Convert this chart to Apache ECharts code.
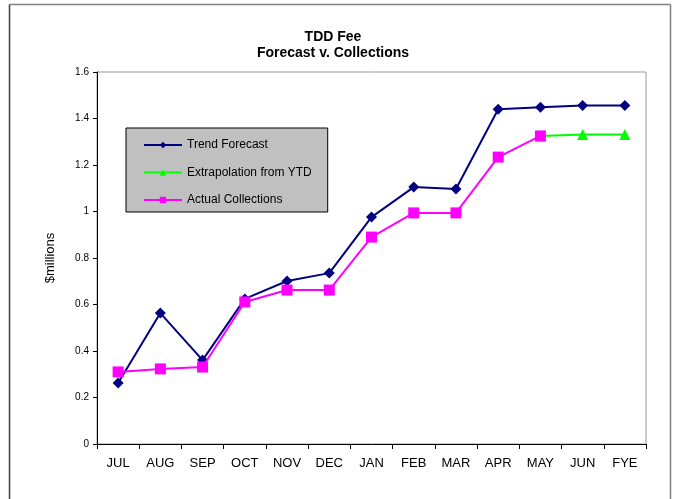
<!DOCTYPE html>
<html><head><meta charset="utf-8">
<script src="https://cdn.jsdelivr.net/npm/echarts@6/dist/echarts.min.js"></script>
<style>html,body{margin:0;padding:0;background:#fff}#c{width:674px;height:499px}</style>
</head><body><div id="c"></div>
<script>
const categories = ['JUL','AUG','SEP','OCT','NOV','DEC','JAN','FEB','MAR','APR','MAY','JUN','FYE'];
const trendForecast = [0.262,0.563,0.361,0.624,0.701,0.735,0.976,1.105,1.097,1.440,1.448,1.456,1.456];
const extrapolation = [null,null,null,null,null,null,null,null,null,null,1.325,1.331,1.331];
const actualCollections = [0.310,0.323,0.331,0.611,0.662,0.662,0.890,0.994,0.994,1.234,1.325,null,null];
const yTicks = [0,0.2,0.4,0.6,0.8,1,1.2,1.4,1.6];

const chart = echarts.init(document.getElementById('c'));
const font = 'Liberation Sans, Arial, sans-serif';
chart.setOption({
  animation: false,
  textStyle: {fontFamily: font},
  title: {
    text: 'TDD Fee\nForecast v. Collections',
    left: 328, textAlign: 'center', top: 24,
    textStyle: {fontFamily: font, fontSize: 14, fontWeight: 'bold', color: '#000', lineHeight: 16}
  },
  graphic: [
    {type: 'line', silent: true, shape: {x1: 9.5, y1: 4.5, x2: 670.5, y2: 4.5}, style: {stroke: '#808080', lineWidth: 1.5}},
    {type: 'line', silent: true, shape: {x1: 9.5, y1: 4.5, x2: 9.5, y2: 499}, style: {stroke: '#404040', lineWidth: 1.5}},
    {type: 'line', silent: true, shape: {x1: 670.5, y1: 4.5, x2: 670.5, y2: 499}, style: {stroke: '#808080', lineWidth: 1.5}}
  ],
  legend: {
    orient: 'vertical', left: 126, top: 128,
    backgroundColor: '#c0c0c0', borderColor: '#000', borderWidth: 1,
    padding: [11, 16, 6, 17], itemGap: 15.5, itemWidth: 38, itemHeight: 8,
    textStyle: {fontFamily: font, fontSize: 12, color: '#000'},
    data: ['Trend Forecast','Extrapolation from YTD','Actual Collections']
  },
  grid: {left: 97, right: 28, top: 72, bottom: 55, show: true, borderColor: '#999', borderWidth: 1},
  xAxis: {
    type: 'category', data: categories, boundaryGap: true,
    axisLine: {lineStyle: {color: '#000', width: 1}},
    axisTick: {show: true, inside: false, length: 5, lineStyle: {color: '#000'}},
    axisLabel: {fontFamily: font, fontSize: 13, color: '#000', margin: 13},
    splitLine: {show: false}
  },
  yAxis: {
    type: 'value', min: 0, max: 1.6, interval: 0.2,
    name: '$millions', nameLocation: 'middle', nameGap: 40, nameRotate: 90,
    nameTextStyle: {fontFamily: font, fontSize: 13, color: '#000'},
    axisLine: {show: true, lineStyle: {color: '#000', width: 1}},
    axisTick: {show: true, length: 4, lineStyle: {color: '#000'}},
    axisLabel: {fontFamily: font, fontSize: 10, color: '#000', margin: 8,
      formatter: v => { const t = yTicks.find(x => Math.abs(x - v) < 1e-9); return t === undefined ? '' : String(t); }},
    splitLine: {show: false}
  },
  series: [
    {name: 'Extrapolation from YTD', type: 'line', data: extrapolation, z: 2,
      symbol: 'triangle', symbolSize: 11, color: '#00ff00',
      lineStyle: {color: '#00ff00', width: 2}, itemStyle: {color: '#00ff00'}},
    {name: 'Actual Collections', type: 'line', data: actualCollections, z: 3,
      symbol: 'rect', symbolSize: 11, color: '#ff00ff',
      lineStyle: {color: '#ff00ff', width: 2}, itemStyle: {color: '#ff00ff'}},
    {name: 'Trend Forecast', type: 'line', data: trendForecast, z: 1,
      symbol: 'diamond', symbolSize: 11, color: '#000080',
      lineStyle: {color: '#000080', width: 2}, itemStyle: {color: '#000080'}}
  ]
});
</script></body></html>
